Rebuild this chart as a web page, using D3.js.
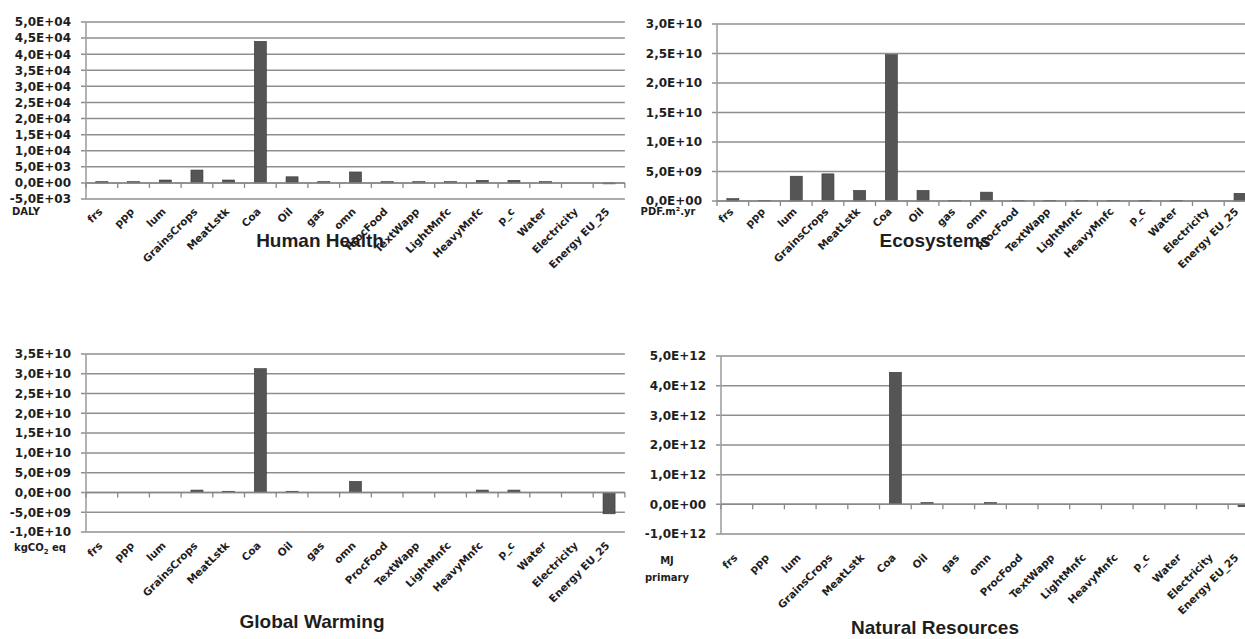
<!DOCTYPE html>
<html>
<head>
<meta charset="utf-8">
<script src="https://cdn.jsdelivr.net/npm/d3@7"></script>
<style>
  html, body { margin: 0; padding: 0; background: #fff; }
  svg { display: block; }
  .tick-label { font-family: "DejaVu Sans", sans-serif; font-weight: 700; font-size: 12px; fill: #1e1e1e; }
  .cat-label { font-family: "DejaVu Sans", sans-serif; font-weight: 700; font-size: 10.5px; fill: #1e1e1e; }
  .unit-label { font-family: "DejaVu Sans", sans-serif; font-weight: 700; font-size: 10px; fill: #1e1e1e; }
  .panel-title { font-family: "Liberation Sans", Arial, sans-serif; font-weight: 700; font-size: 19px; fill: #1e1e1e; }
</style>
</head>
<body>
<svg id="chart" width="1245" height="639"></svg>
<script>
// Economic sectors shown on every panel
const categories = ["frs", "ppp", "lum", "GrainsCrops", "MeatLstk", "Coa", "Oil", "gas", "omn",
  "ProcFood", "TextWapp", "LightMnfc", "HeavyMnfc", "p_c", "Water", "Electricity", "Energy EU_25"];

// Impact per sector
const humanHealth = [400, 400, 900, 4000, 900, 44000, 1900, 400, 3400, 400, 400, 400, 800, 800, 400, 0, -300];
const ecosystems = [4e8, 1e8, 4.2e9, 4.6e9, 1.8e9, 2.48e10, 1.8e9, 1e8, 1.5e9, 1e8, 1e8, 1e8, 1e8, 1e8, 1e8, 0, 1.3e9];
const globalWarming = [0, 0, 0, 6e8, 3e8, 3.13e10, 3e8, 0, 2.8e9, 0, 0, 0, 6e8, 6e8, 0, 0, -5.4e9];
const naturalResources = [0, 0, 0, 0, 0, 4.45e12, 6e10, 0, 6e10, 0, 0, 0, 0, 0, 0, 0, -8e10];

// Y axis tick values
const hhTicks = [-5e3, 0, 5e3, 1e4, 1.5e4, 2e4, 2.5e4, 3e4, 3.5e4, 4e4, 4.5e4, 5e4];
const ecoTicks = [0, 5e9, 1e10, 1.5e10, 2e10, 2.5e10, 3e10];
const gwTicks = [-1e10, -5e9, 0, 5e9, 1e10, 1.5e10, 2e10, 2.5e10, 3e10, 3.5e10];
const nrTicks = [-1e12, 0, 1e12, 2e12, 3e12, 4e12, 5e12];

// Scientific format with comma decimal separator, e.g. 5,0E+04
function sci(v) {
  if (v === 0) return "0,0E+00";
  const [m, e] = v.toExponential(1).split("e");
  const n = parseInt(e, 10);
  const exp = (n < 0 ? "-" : "+") + String(Math.abs(n)).padStart(2, "0");
  return m.replace(".", ",") + "E" + exp;
}

const svg = d3.select("#chart");

const panels = [
  { values: humanHealth, ticks: hhTicks, title: "Human Health",
    x0: 86, top: 22, bottom: 199, titleX: 320, titleY: 247, catY: 207,
    unit: [{ t: "DALY", x: 26, y: 215 }] },
  { values: ecosystems, ticks: ecoTicks, title: "Ecosystems",
    x0: 717, top: 24, bottom: 201, titleX: 935, titleY: 247, catY: 207,
    unit: [{ t: "PDF.m².yr", x: 668, y: 215 }] },
  { values: globalWarming, ticks: gwTicks, title: "Global Warming",
    x0: 86, top: 354, bottom: 532, titleX: 312, titleY: 628, catY: 541,
    unit: [{ t: "kgCO2 eq", x: 40, y: 551, sub: true }] },
  { values: naturalResources, ticks: nrTicks, title: "Natural Resources",
    x0: 721, top: 356, bottom: 534, titleX: 935, titleY: 634, catY: 553,
    unit: [{ t: "MJ", x: 667, y: 564 }, { t: "primary", x: 667, y: 581 }] }
];

const band = 31.7;
const labelMaxX = 1234; // keep the last rotated label inside the page

panels.forEach(p => {
  const g = svg.append("g");
  const x = d3.scaleBand().domain(categories)
    .range([p.x0, p.x0 + band * categories.length])
    .paddingInner(0.62).paddingOuter(0.31);
  const lo = p.ticks[0], hi = p.ticks[p.ticks.length - 1];
  const y = d3.scaleLinear().domain([lo, hi]).range([p.bottom, p.top]);
  const xEnd = p.x0 + band * categories.length;

  // Horizontal gridlines
  g.selectAll("line.grid").data(p.ticks).join("line")
    .attr("x1", p.x0 - 5).attr("x2", xEnd)
    .attr("y1", d => y(d)).attr("y2", d => y(d))
    .attr("stroke", "#8f8f8f").attr("stroke-width", 1.5);

  // Vertical axis line
  g.append("line")
    .attr("x1", p.x0).attr("x2", p.x0)
    .attr("y1", p.top).attr("y2", p.bottom)
    .attr("stroke", "#a0a0a0").attr("stroke-width", 1.6);

  // Y tick labels
  g.selectAll("text.tick-label").data(p.ticks).join("text")
    .attr("class", "tick-label")
    .attr("x", p.x0 - 15).attr("y", d => y(d))
    .attr("dy", "0.36em").attr("text-anchor", "end")
    .text(sci);

  // Bars
  g.selectAll("rect.bar").data(p.values).join("rect")
    .attr("x", (d, i) => x(categories[i]))
    .attr("width", x.bandwidth())
    .attr("y", d => y(Math.max(0, d)))
    .attr("height", d => Math.abs(y(d) - y(0)))
    .attr("fill", "#555555").attr("stroke", "#383838").attr("stroke-width", 0.6);

  // Category axis along zero with tick marks at band boundaries
  g.append("line")
    .attr("x1", p.x0).attr("x2", xEnd)
    .attr("y1", y(0)).attr("y2", y(0))
    .attr("stroke", "#888").attr("stroke-width", 1.5);
  g.selectAll("line.ctick").data(d3.range(categories.length + 1)).join("line")
    .attr("x1", i => p.x0 + i * band).attr("x2", i => p.x0 + i * band)
    .attr("y1", y(0)).attr("y2", y(0) + 5)
    .attr("stroke", "#888").attr("stroke-width", 1.3);

  // Rotated category labels
  g.selectAll("text.cat-label").data(categories).join("text")
    .attr("class", "cat-label")
    .attr("text-anchor", "end")
    .attr("transform", d => {
      const ax = Math.min(x(d) + x.bandwidth() / 2 - 4, labelMaxX);
      return `translate(${ax},${p.catY}) rotate(-45)`;
    })
    .attr("dy", "0.7em")
    .text(d => d);

  // Unit label
  p.unit.forEach(u => {
    const t = g.append("text").attr("class", "unit-label")
      .attr("x", u.x).attr("y", u.y).attr("text-anchor", "middle");
    if (u.sub) {
      t.append("tspan").text("kgCO");
      t.append("tspan").attr("font-size", "7px").attr("dy", 3).text("2");
      t.append("tspan").attr("dy", -3).text(" eq");
    } else {
      t.text(u.t);
    }
  });

  // Panel title
  g.append("text").attr("class", "panel-title")
    .attr("x", p.titleX).attr("y", p.titleY)
    .attr("text-anchor", "middle").text(p.title);
});
</script>
</body>
</html>
